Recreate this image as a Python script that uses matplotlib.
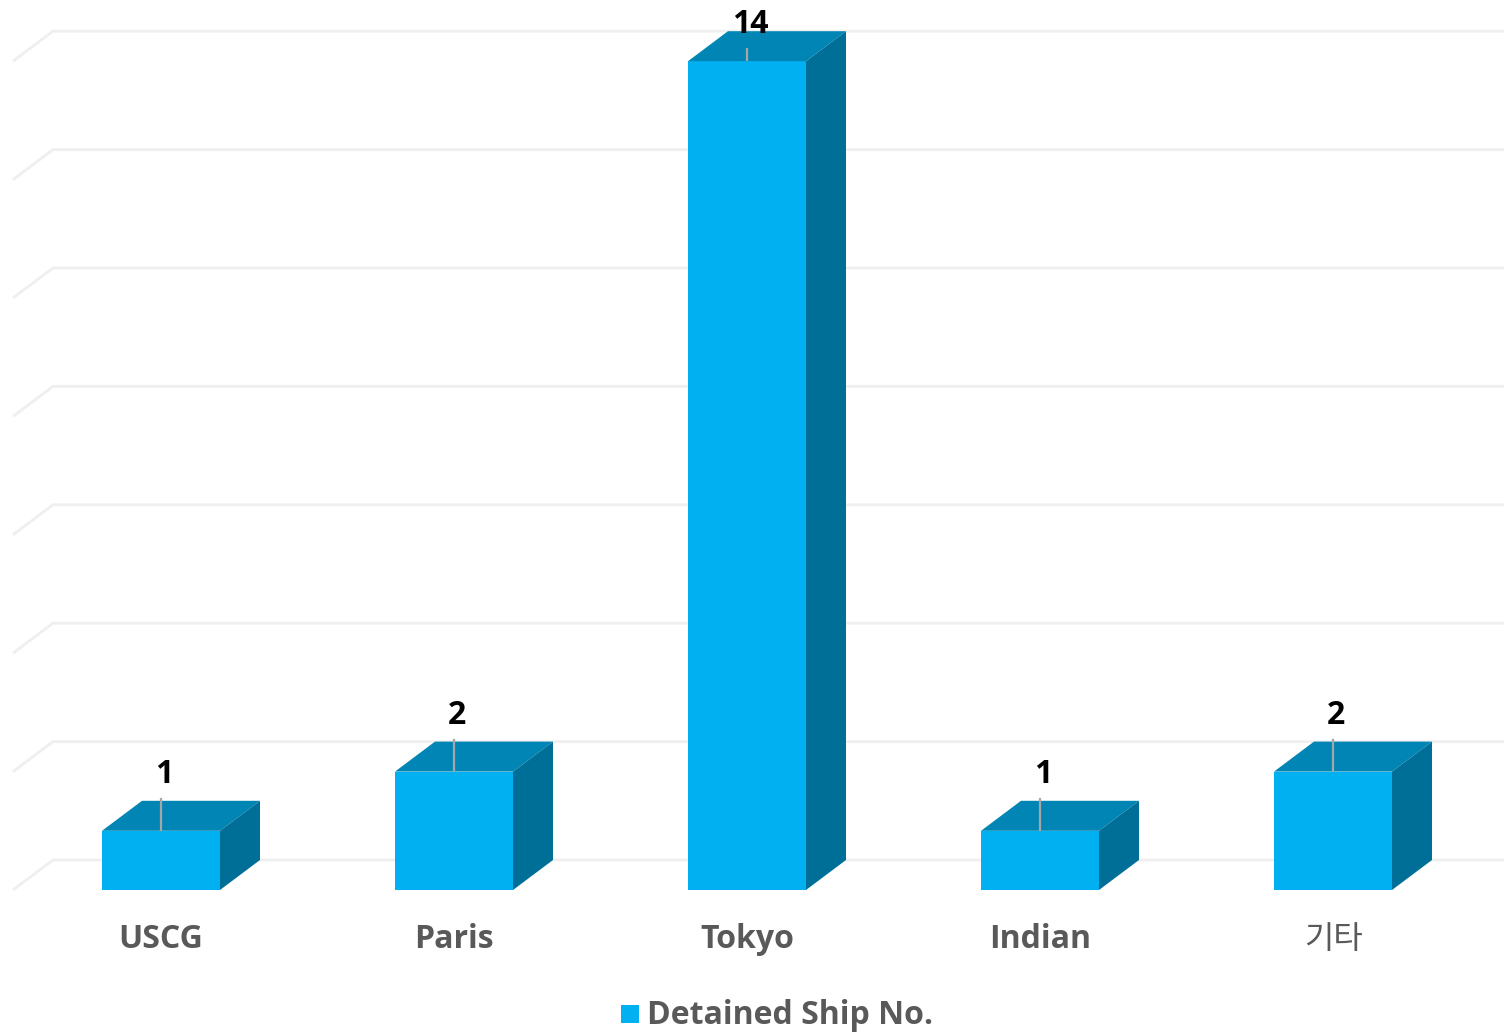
import matplotlib.pyplot as plt
from matplotlib.patches import Polygon, Rectangle

# Data
categories = ['USCG', 'Paris', 'Tokyo', 'Indian', '기타']
values = [1, 2, 14, 1, 2]
grid_ticks = [0, 2, 4, 6, 8, 10, 12, 14]
series_name = 'Detained Ship No.'

# Colours
front_c = '#00B0F0'
top_c = '#0085B5'
side_c = '#006F98'
grid_c = '#EFEFEF'
text_c = '#595959'

plt.rcParams['font.family'] = ['Open Sans', 'Noto Sans CJK KR', 'DejaVu Sans']

fig = plt.figure(figsize=(15.04, 10.32), dpi=100)
ax = fig.add_axes([0, 0, 1, 1])

# pixel mapping: x_px = 161 + 293*x, y_px = 890 - 59.2*v
ppu_x, ppu_y = 293.0, 59.2
ax.set_xlim(-161 / ppu_x, (1504 - 161) / ppu_x)
ax.set_ylim((890 - 1032) / ppu_y, 890 / ppu_y)
ax.axis('off')

dx = 40 / ppu_x   # depth offset
dy = 30 / ppu_y
w = 118 / ppu_x   # bar width
x0 = -0.5 + (13 - 14.5) / ppu_x

# back-wall gridlines with diagonal on the left
for g in grid_ticks:
    ax.plot([x0, x0 + dx, 10], [g, g + dy, g + dy], color=grid_c, lw=2,
            zorder=1, solid_capstyle='butt')

# 3D-looking bars
for i, v in enumerate(values):
    l, r = i - w / 2, i + w / 2
    ax.add_patch(Rectangle((l, 0), w, v, facecolor=front_c, edgecolor='none', zorder=3))
    ax.add_patch(Polygon([(l, v), (r, v), (r + dx, v + dy), (l + dx, v + dy)],
                         closed=True, facecolor=top_c, edgecolor='none', zorder=3))
    ax.add_patch(Polygon([(r, 0), (r + dx, dy), (r + dx, v + dy), (r, v)],
                         closed=True, facecolor=side_c, edgecolor='none', zorder=3))

    # data label with leader line
    ly = min(v + 0.95, 14.62)
    ax.text(i + 0.01, ly, str(v), ha='center', va='center', fontsize=23,
            fontweight='bold', color='black', zorder=5)
    ax.plot([i, i], [ly - 0.42, v + 0.02], color='#A6A6A6', lw=1.6, zorder=4)

    # category label
    bold = 'bold' if categories[i].isascii() else 'normal'
    ax.text(i, -0.84, categories[i], ha='center', va='center', fontsize=23,
            fontweight=bold, color=text_c)

# legend
fig.patches.append(Rectangle((621 / 1504, 1 - 1023 / 1032), 18 / 1504, 18 / 1032,
                             transform=fig.transFigure, facecolor=front_c,
                             edgecolor='none'))
fig.text(647 / 1504, 1 - 1016 / 1032, series_name, ha='left', va='center',
         fontsize=23, fontweight='bold', color=text_c)

fig.savefig('out.png', dpi=100)
